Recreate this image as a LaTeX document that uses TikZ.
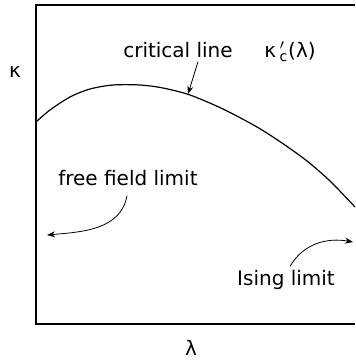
\documentclass[tikz,border=0pt]{standalone}
\usepackage{fontspec}
\setmainfont{DejaVu Sans}
\usetikzlibrary{arrows.meta,calc,positioning}
\begin{document}
\begin{tikzpicture}[x=0.5pt,y=-0.5pt,>={Stealth[length=4pt,width=3pt]},font=\fontsize{10}{12}\selectfont,
  lbl/.style={inner sep=1pt,anchor=base}]
\useasboundingbox (0,0) rectangle (355,360);
% frame
\draw[thick] (355,5) -- (36,5) -- (36,324) -- (355,324);
% critical line
\draw[semithick] plot[smooth,tension=0.5] coordinates {(36,122) (50,110) (70,97) (90,89) (113,85) (140,85) (163,88) (190,95) (223,109) (257,127) (282,143) (307,161) (330,181) (355,207)};
\coordinate (onc) at (188,94);
\coordinate (ffl) at (47,235);
\coordinate (isl) at (353,242);
% labels
\node[lbl] (kappa) at (15,77) {κ};
\node[lbl] (lambda) at (191,355) {λ};
\node[lbl] (crit) at (178,57) {critical line};
\node[lbl,anchor=base west] (kc) at (262,57) {κ\,$_{\mathrm{c}}^{\prime}$(λ)};
\node[lbl] (free) at (128,185) {free field limit};
\node[lbl] (ising) at (286,285) {Ising limit};
% arrows
\draw[->] (crit.south) ++(20,2) -- (onc);
\draw[->] (free.south) ++(-1,8) to[out=-100,in=5] (ffl);
\draw[->] (ising.north) ++(4,-1) to[out=60,in=170] (isl);
\end{tikzpicture}
\end{document}
